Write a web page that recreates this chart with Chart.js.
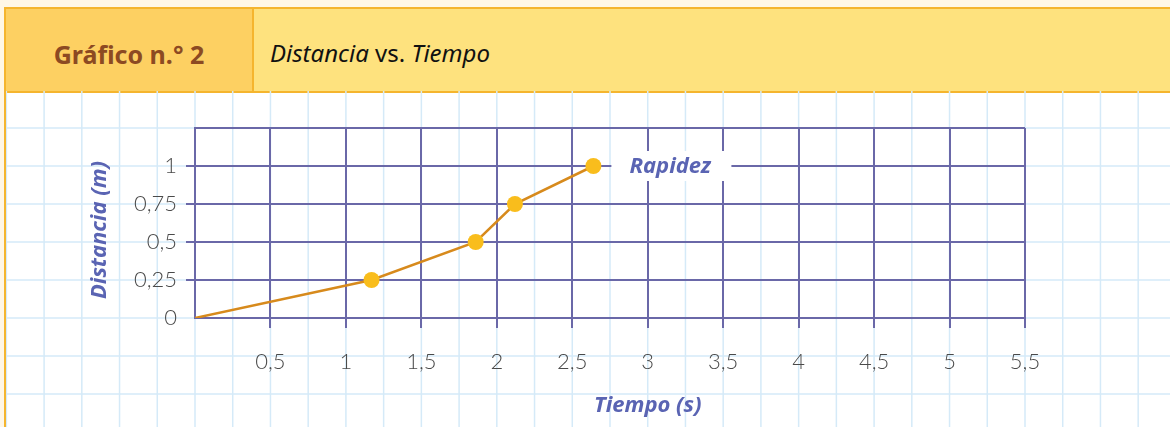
<!DOCTYPE html>
<html>
<head>
<meta charset="utf-8">
<script src="https://cdn.jsdelivr.net/npm/chart.js@4"></script>
<style>
  html, body { margin: 0; padding: 0; }
  body { width: 1170px; height: 427px; background: #fff7e6; position: relative; overflow: hidden; font-family: "Noto Sans", sans-serif; }
  #frame { position: absolute; left: 4px; top: 7px; width: 1166px; height: 420px; background: #fff; border-left: 2px solid #f5b52e; }
  #head { position: absolute; left: 0; top: 0; width: 1166px; height: 82px; border-top: 2px solid #f5b52e; border-bottom: 2px solid #f5b52e; background: #fee27e; }
  #num { position: absolute; left: 0; top: 0; width: 246px; height: 82px; background: #fdd062; border-right: 2px solid #f5b52e; color: #8c4a22; font-weight: bold; font-size: 25px; line-height: 90px; text-align: center; }
  #title { position: absolute; left: 264px; top: 0; height: 82px; line-height: 88px; font-size: 24px; color: #111; }
  #title i { font-style: italic; }
  #wrap { position: absolute; left: 6px; top: 91px; width: 1164px; height: 336px; }
</style>
</head>
<body>
<div id="frame">
  <div id="head">
    <div id="num">Gráfico n.° 2</div>
    <div id="title"><i>Distancia</i> vs. <i>Tiempo</i></div>
  </div>
</div>
<div id="wrap"><canvas id="lineChart" width="1164" height="336"></canvas></div>
<script>
// tiempo (s) y distancia (m)
var tiempo = [0, 1.17, 1.86, 2.12, 2.64];
var distancia = [0, 0.25, 0.5, 0.75, 1];
var serieNombre = 'Rapidez';
var xTicks = [0.5, 1, 1.5, 2, 2.5, 3, 3.5, 4, 4.5, 5, 5.5];
var yTicks = [0, 0.25, 0.5, 0.75, 1];
var xTitulo = 'Tiempo (s)';
var yTitulo = 'Distancia (m)';

var purple = '#6a68a8';
var blueText = '#5a64b3';
var labelGray = '#4a4a4a';
var titleFont = 'italic bold 22px "Noto Sans"';

function fmt(v) { return String(v).replace('.', ','); }

// light blue squared paper behind the chart, every 0.25 unit
var paper = {
    id: 'paper',
    beforeDraw: function (chart) {
        var c = chart.ctx, xs = chart.scales.x, ys = chart.scales.y;
        var dx = xs.getPixelForValue(0.25) - xs.getPixelForValue(0);
        var dy = ys.getPixelForValue(0) - ys.getPixelForValue(0.25);
        c.save();
        c.strokeStyle = '#d5eaf8';
        c.lineWidth = 1.5;
        var x0 = xs.getPixelForValue(0);
        for (var x = x0 - Math.floor(x0 / dx) * dx; x < chart.width; x += dx) {
            c.beginPath(); c.moveTo(x, 0); c.lineTo(x, chart.height); c.stroke();
        }
        var y0 = ys.getPixelForValue(0);
        for (var y = y0 - Math.floor(y0 / dy) * dy; y < chart.height; y += dy) {
            c.beginPath(); c.moveTo(0, y); c.lineTo(chart.width, y); c.stroke();
        }
        c.restore();
    }
};

// series name next to the last point + axis titles
var labels = {
    id: 'labels',
    afterDraw: function (chart) {
        var c = chart.ctx, xs = chart.scales.x, ys = chart.scales.y, a = chart.chartArea;
        var n = tiempo.length - 1;
        var px = xs.getPixelForValue(tiempo[n]);
        var py = ys.getPixelForValue(distancia[n]);
        c.save();
        c.fillStyle = '#ffffff';
        c.fillRect(px + 18, py - 15, 120, 30);
        c.fillStyle = blueText;
        c.font = titleFont;
        c.textBaseline = 'middle';
        c.fillText(serieNombre, px + 36, py + 1);

        c.textAlign = 'center';
        c.fillText(xTitulo, xs.getPixelForValue(3), a.bottom + 88);
        c.translate(a.left - 95, (a.top + a.bottom) / 2 + 7);
        c.rotate(-Math.PI / 2);
        c.fillText(yTitulo, 0, 0);
        c.restore();
    }
};

var ctx = document.getElementById('lineChart').getContext('2d');

var myChart = new Chart(ctx, {
    type: 'scatter',
    data: {
        datasets: [{
            label: serieNombre,
            data: tiempo.map(function (t, i) { return { x: t, y: distancia[i] }; }),
            showLine: true,
            borderColor: '#d78a1c',
            borderWidth: 2.5,
            backgroundColor: '#f9bd1c',
            pointBackgroundColor: '#f9bd1c',
            pointBorderWidth: 0,
            pointRadius: function (c) { return c.dataIndex === 0 ? 0 : 8; }
        }]
    },
    plugins: [paper, labels],
    options: {
        responsive: false,
        animation: false,
        layout: { padding: { left: 82, right: 145, top: 37, bottom: 0 } },
        plugins: { legend: { display: false }, tooltip: { enabled: false } },
        scales: {
            x: {
                type: 'linear',
                min: 0,
                max: 5.5,
                afterFit: function (s) { s.height = 109; },
                afterBuildTicks: function (s) { s.ticks = [0].concat(xTicks).map(function (v) { return { value: v }; }); },
                ticks: {
                    color: labelGray,
                    padding: 21,
                    font: { family: 'Lato', size: 22, weight: '300' },
                    maxRotation: 0,
                    callback: function (v) { return v === 0 ? '' : fmt(v); }
                },
                grid: {
                    color: purple,
                    lineWidth: 2,
                    tickLength: 10,
                    tickColor: function (c) { return c.tick && c.tick.value === 0 ? 'rgba(0,0,0,0)' : purple; }
                },
                border: { color: purple, width: 2 }
            },
            y: {
                type: 'linear',
                min: 0,
                max: 1.25,
                afterFit: function (s) { s.width = 107; },
                afterBuildTicks: function (s) { s.ticks = yTicks.concat([1.25]).map(function (v) { return { value: v }; }); },
                ticks: {
                    color: labelGray,
                    padding: 9,
                    font: { family: 'Lato', size: 22, weight: '300' },
                    callback: function (v) { return v > 1 ? '' : fmt(v); }
                },
                grid: {
                    color: purple,
                    lineWidth: 2,
                    tickLength: 9,
                    tickColor: function (c) { return c.tick && (c.tick.value > 1 || c.tick.value === 0) ? 'rgba(0,0,0,0)' : purple; }
                },
                border: { color: purple, width: 2 }
            }
        }
    }
});
</script>
</body>
</html>
